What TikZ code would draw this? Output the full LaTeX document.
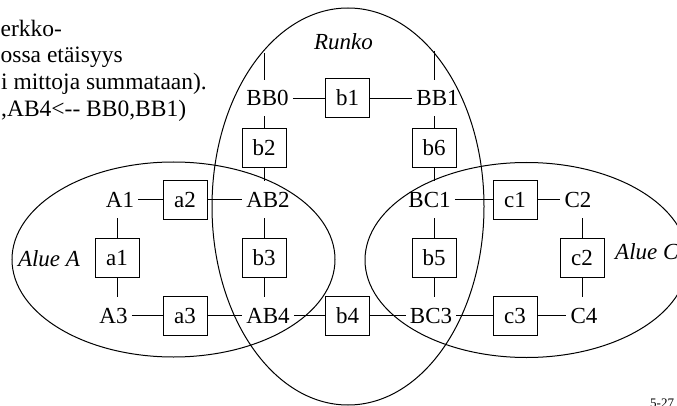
\documentclass[tikz,border=0pt]{standalone}
\usepackage{fontspec}
\setmainfont{Liberation Serif}
\begin{document}
\begin{tikzpicture}[x=1pt,y=-1pt,
  every node/.style={font=\fontsize{23}{27}\selectfont},
  lbl/.style={inner xsep=4pt, inner ysep=0pt, text height=15.5pt, text depth=0pt, minimum height=36pt},
  box/.style={draw, line width=0.9pt, minimum width=44pt, minimum height=39pt, inner sep=0pt, text height=15.5pt, text depth=0pt},
  area/.style={draw, line width=1pt},
  conn/.style={line width=0.9pt},
  areatext/.style={font=\fontsize{23}{27}\selectfont\itshape, inner sep=0pt, text height=15.5pt, text depth=0pt},
  note/.style={font=\fontsize{23.5}{27}\selectfont, inner sep=0pt, anchor=base west}
]
\useasboundingbox (0,0) rectangle (677,406);
\clip (0,0) rectangle (677,406);

% areas
\draw[area] (348,206.5) ellipse [x radius=136, y radius=198.5];
\draw[area] (173.5,259.5) ellipse [x radius=161.5, y radius=97.5];
\draw[area] (526.5,260) ellipse [x radius=161.5, y radius=97.5];

\node[areatext] (runko) at (343.5,42) {Runko};
\node[areatext] (alueA) at (49,259) {Alue A};
\node[areatext, anchor=west] (alueC) at (615,252) {Alue C};

% top-left note (as far as the picture shows it)
\node[note] (n1) at (0.5,37) {erkko-};
\node[note] (n2) at (0.5,63) {ossa etäisyys};
\node[note] (n3) at (1,90) {i mittoja summataan).};
\node[note] (n4) at (1,117) {,AB4<-{}- BB0,BB1)};

\node[font=\fontsize{13}{15}\selectfont, anchor=base west, inner sep=0pt] (pg) at (650,407) {5-27};

% backbone
\node[lbl] (BB0) at (267.5,98) {BB0};
\node[lbl] (BB1) at (437.5,98) {BB1};
\node[box] (b1) at (347.5,98) {b1};
\node[box] (b2) at (264,148) {b2};
\node[box] (b6) at (434,148) {b6};

% rows
\node[lbl] (A1) at (120,199.5) {A1};
\node[box] (a2) at (185,199.5) {a2};
\node[lbl] (AB2) at (268,199.5) {AB2};
\node[lbl] (BC1) at (429.5,199.5) {BC1};
\node[box] (c1) at (515,199.5) {c1};
\node[lbl] (C2) at (578,199.5) {C2};

\node[box] (a1) at (117,257.5) {a1};
\node[box] (b3) at (264,257.5) {b3};
\node[box] (b5) at (434,257.5) {b5};
\node[box] (c2) at (582,257.5) {c2};

\node[lbl] (A3) at (113.5,315.5) {A3};
\node[box] (a3) at (185,315.5) {a3};
\node[lbl] (AB4) at (268,315.5) {AB4};
\node[box] (b4) at (347.5,315.5) {b4};
\node[lbl] (BC3) at (431,315.5) {BC3};
\node[box] (c3) at (515,315.5) {c3};
\node[lbl] (C4) at (584,315.5) {C4};

% free ends on the backbone ellipse
\coordinate (topL) at (264,53);
\coordinate (topR) at (434,51);

% horizontal connectors
\draw[conn] (BB0) -- (b1);
\draw[conn] (b1) -- (BB1);
\draw[conn] (A1) -- (a2);
\draw[conn] (a2) -- (AB2);
\draw[conn] (BC1) -- (c1);
\draw[conn] (c1) -- (C2);
\draw[conn] (A3) -- (a3);
\draw[conn] (a3) -- (AB4);
\draw[conn] (AB4) -- (b4);
\draw[conn] (b4) -- (BC3);
\draw[conn] (BC3) -- (c3);
\draw[conn] (c3) -- (C4);

% vertical connectors
\draw[conn] (topL) -- (topL |- BB0.north);
\draw[conn] (topR) -- (topR |- BB1.north);
\draw[conn] (b2.north) -- (b2.north |- BB0.south);
\draw[conn] (b2.south) -- (b2.south |- AB2.north);
\draw[conn] (b6.north) -- (b6.north |- BB1.south);
\draw[conn] (b6.south) -- (b6.south |- BC1.north);
\draw[conn] (a1.north) -- (a1.north |- A1.south);
\draw[conn] (a1.south) -- (a1.south |- A3.north);
\draw[conn] (b3.north) -- (b3.north |- AB2.south);
\draw[conn] (b3.south) -- (b3.south |- AB4.north);
\draw[conn] (b5.north) -- (b5.north |- BC1.south);
\draw[conn] (b5.south) -- (b5.south |- BC3.north);
\draw[conn] (c2.north) -- (c2.north |- C2.south);
\draw[conn] (c2.south) -- (c2.south |- C4.north);
\end{tikzpicture}
\end{document}
